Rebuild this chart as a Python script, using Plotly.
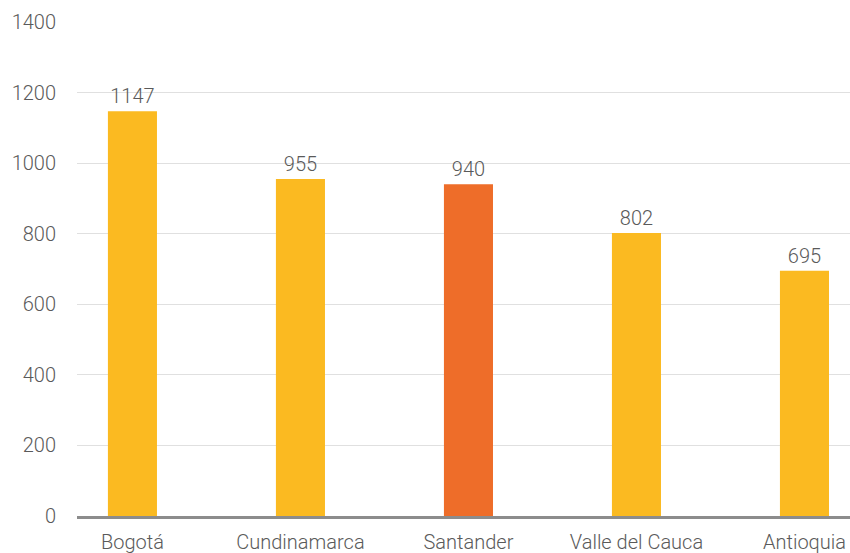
import plotly.graph_objects as go

categories = ["Bogotá", "Cundinamarca", "Santander", "Valle del Cauca", "Antioquia"]
values = [1147, 955, 940, 802, 695]
colors = ["#FBBA21", "#FBBA21", "#EE6D29", "#FBBA21", "#FBBA21"]
y_ticks = [0, 200, 400, 600, 800, 1000, 1200, 1400]

font_family = "Roboto"
txt_color = "#5a5a5a"

fig = go.Figure(go.Bar(
    x=list(range(len(categories))),
    y=values,
    marker=dict(color=colors, line=dict(width=0)),
    width=0.292,
    text=[str(v) for v in values],
    textposition="outside",
    textfont=dict(family=font_family, size=20, color=txt_color, weight=300),
    cliponaxis=False,
))

fig.update_layout(
    width=850, height=553,
    margin=dict(l=77, r=0, t=22, b=37),
    plot_bgcolor="white", paper_bgcolor="white",
    showlegend=False,
    font=dict(family=font_family, size=20, color=txt_color, weight=300),
    xaxis=dict(
        range=[-0.330, 4.271],
        tickmode="array",
        tickvals=list(range(len(categories))),
        ticktext=categories,
        showgrid=False, zeroline=False,
        showline=True, linecolor="#8c8c8c", linewidth=3,
        ticks="", ticklabelstandoff=6,
        tickfont=dict(family=font_family, size=20, color=txt_color, weight=300),
    ),
    yaxis=dict(
        range=[0, 1400],
        tickvals=y_ticks,
        showgrid=True, gridcolor="#e0e0e0", gridwidth=1,
        zeroline=False, showline=False, ticks="",
        ticklabelstandoff=20,
        tickfont=dict(family=font_family, size=20, color=txt_color, weight=300),
    ),
)

fig.write_html("out.html")
